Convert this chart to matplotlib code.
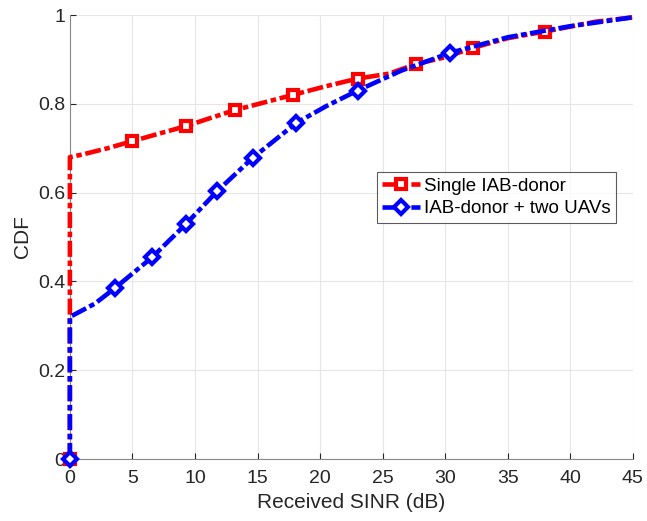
import matplotlib
matplotlib.use("Agg")
import matplotlib.pyplot as plt

plt.rcParams['font.family'] = ['Liberation Sans', 'DejaVu Sans']

# CDF curves (Received SINR in dB vs. CDF)
single_x = [0, 0, 1, 3, 5, 7, 9.3, 11, 13.2, 15.5, 17.8, 20.5, 23, 25.5, 27.7, 30, 32.2, 35, 38, 42, 45]
single_y = [0, 0.68, 0.686, 0.70, 0.716, 0.732, 0.75, 0.766, 0.786, 0.803, 0.82, 0.84, 0.857, 0.868, 0.89, 0.905, 0.926, 0.948, 0.963, 0.985, 0.995]
single_marks = [0, 4, 6, 8, 10, 12, 14, 16, 18]

uav_x = [0, 0, 2, 3.6, 6.6, 9.3, 11.8, 14.6, 18.1, 20.5, 23, 26.5, 30.4, 35, 40, 45]
uav_y = [0, 0.32, 0.35, 0.385, 0.455, 0.53, 0.604, 0.678, 0.757, 0.795, 0.83, 0.875, 0.915, 0.95, 0.975, 0.995]
uav_marks = [0, 3, 4, 5, 6, 7, 8, 10, 12]

fig = plt.figure(figsize=(6.47, 5.21), dpi=100)
ax = fig.add_axes([0.108, 0.119, 0.870, 0.852])

dash = (0, (3.5, 0.8, 1.2, 0.8))
ax.plot(single_x, single_y, color='#ff0000', lw=3.3, linestyle=dash,
        marker='s', markersize=7, markerfacecolor='white', markeredgewidth=3.0,
        markevery=single_marks, label='Single IAB-donor', zorder=3, clip_on=False)
ax.plot(uav_x, uav_y, color='#0000ff', lw=3.3, linestyle=dash,
        marker='D', markersize=7, markerfacecolor='white', markeredgewidth=3.0,
        markevery=uav_marks, label='IAB-donor + two UAVs', zorder=4, clip_on=False)

ax.set_xlim(0, 45)
ax.set_ylim(0, 1)
ax.set_xticks(range(0, 46, 5))
ax.set_yticks([0, 0.2, 0.4, 0.6, 0.8, 1])
ax.set_yticklabels(['0', '0.2', '0.4', '0.6', '0.8', '1'])
ax.grid(True, color='#e6e6e6', lw=0.8)
ax.set_axisbelow(True)
for s in ['top', 'right']:
    ax.spines[s].set_visible(False)
for s in ['left', 'bottom']:
    ax.spines[s].set_color('#888888')
ax.tick_params(colors='#262626', labelsize=14, direction='in', length=4)
ax.tick_params(axis='x', pad=8)
ax.set_xlabel('Received SINR (dB)', fontsize=15, color='#262626')
ax.set_ylabel('CDF', fontsize=15, color='#262626')

leg = ax.legend(loc='upper left', bbox_to_anchor=(0.545, 0.647), fontsize=13.5,
                frameon=True, fancybox=False, edgecolor='#333333', handlelength=2.0,
                borderpad=0.3, labelspacing=0.3, handletextpad=0.2, borderaxespad=0)
leg.get_frame().set_linewidth(0.8)

fig.savefig('out.png', dpi=100)
